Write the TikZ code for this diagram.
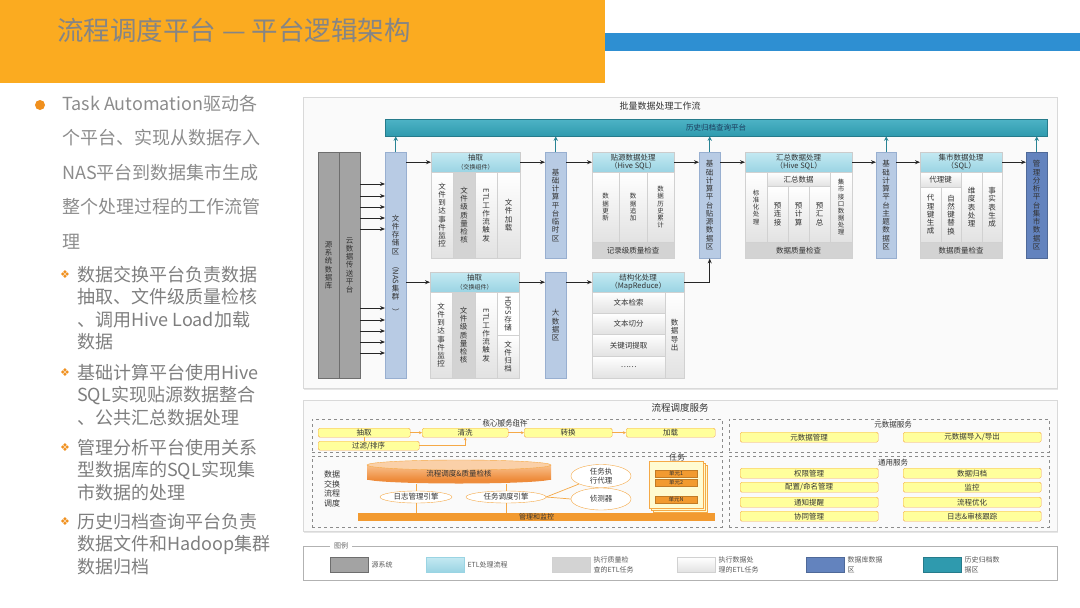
\documentclass[tikz,border=0pt]{standalone}
\usepackage{fontspec}
\setmainfont{Noto Sans CJK SC}
\newfontfamily\symfont{DejaVu Sans}
\usepackage{xcolor}
\usetikzlibrary{arrows.meta,positioning,shapes.geometric,shadows}

\definecolor{hdorange}{HTML}{FBAB20}
\definecolor{hdblue}{HTML}{2E8FD2}
\definecolor{titlegray}{HTML}{858585}
\definecolor{txtgray}{HTML}{8C8C8C}
\definecolor{subgray}{HTML}{7E7E7E}
\definecolor{bulorange}{HTML}{F0901E}
\definecolor{srcgray}{HTML}{A3A3A3}
\definecolor{srcedge}{HTML}{6E6E6E}
\definecolor{etlhead}{HTML}{9AD4E3}
\definecolor{etllight}{HTML}{C4E9F2}
\definecolor{qcgray}{HTML}{D3D3D3}
\definecolor{cellgray}{HTML}{E2E2E2}
\definecolor{zoneblue}{HTML}{B8CBE4}
\definecolor{zoneedge}{HTML}{98AFD0}
\definecolor{martblue}{HTML}{6383BE}
\definecolor{histteal}{HTML}{2F9AAE}
\definecolor{histlight}{HTML}{4DB3C5}
\definecolor{histtext}{HTML}{1B3A5C}
\definecolor{ybox}{HTML}{FFFF9C}
\definecolor{yedge}{HTML}{F5A947}
\definecolor{mgrorange}{HTML}{F29A30}
\definecolor{cylA}{HTML}{F9C08C}
\definecolor{cylB}{HTML}{EE8C3C}
\definecolor{cylT}{HTML}{FAD0A8}
\definecolor{taskpale}{HTML}{FFFBD2}
\definecolor{inktext}{HTML}{333333}

% stack characters for vertical labels
\newcommand\vtxt[1]{\vbox{\baselineskip=1.1em\lineskip=1pt\vtxtloop#1\relax}}
\def\vtxtloop#1{\ifx\relax#1\else\hbox to 1.2em{\hss#1\hss}\expandafter\vtxtloop\fi}

\begin{document}
\begin{tikzpicture}[x=1pt, y=-1pt,
    every node/.style={inner sep=0pt, text=inktext},
    wh/.style 2 args={minimum width=#1, minimum height=#2},
    panel/.style={draw=black!15, fill=black!2, anchor=north west, drop shadow={shadow xshift=0.5pt, shadow yshift=-2pt, opacity=0.2}},
    head/.style={draw=black!20, anchor=north west, top color=etllight, bottom color=etlhead, align=center, font=\fontsize{7.5}{8.5}\selectfont},
    cell/.style={draw=black!18, anchor=north west, top color=white, bottom color=cellgray, font=\fontsize{7.5}{8}\selectfont},
    qc/.style={draw=black!18, anchor=north west, fill=qcgray, font=\fontsize{7.5}{8}\selectfont},
    zone/.style={draw=zoneedge, anchor=north west, fill=zoneblue, font=\fontsize{7.5}{8}\selectfont},
    martzone/.style={draw=martblue!80!black, anchor=north west, fill=martblue, font=\fontsize{7.5}{8}\selectfont},
    src/.style={draw=srcedge, anchor=north west, fill=srcgray, font=\fontsize{7.5}{8}\selectfont},
    arr/.style={-{Stealth[length=5pt,width=4pt]}, line width=0.9pt, black!85},
    uparr/.style={-{Stealth[length=4.5pt,width=4.5pt]}, line width=1.3pt, histteal!85!black},
    dbox/.style={draw=black!45, dashed, anchor=north west},
    lbl/.style={font=\fontsize{7.5}{8}\selectfont},
    ybx/.style={draw=yedge, fill=ybox, rounded corners=1.5pt, anchor=north west, font=\fontsize{7.5}{8}\selectfont},
    oarr/.style={-{Stealth[length=3pt,width=3pt]}, yedge, line width=0.7pt},
    oline/.style={yedge, line width=0.7pt},
    eng/.style={ellipse, draw=yedge, fill=white, font=\fontsize{7.5}{8.5}\selectfont},
    unit/.style={draw=mgrorange!80!black, fill=mgrorange, anchor=north west, font=\fontsize{5.5}{6}\selectfont},
    swatch/.style={anchor=north west, wh={38}{15}},
    lgtxt/.style={align=left, font=\fontsize{7}{9.5}\selectfont, text=black!65},
    bullet/.style={anchor=north west, align=left, text=txtgray, font=\fontsize{18}{34.5}\selectfont},
    subbullet/.style={anchor=north west, align=left, text=subgray, font=\fontsize{18}{22.5}\selectfont},
    dia/.style={text=bulorange, font=\symfont\fontsize{11}{11}\selectfont},
  ]
\useasboundingbox (0,0) rectangle (1080,608);

\fill[hdorange] (0,0) rectangle (605,83);
\fill[hdblue] (605,33) rectangle (1080,51);
\node[anchor=west, text=titlegray, font=\fontsize{26.5}{26.5}\selectfont] (title) at (57,30) {流程调度平台 — 平台逻辑架构};

\node[circle, fill=bulorange, minimum size=10] (dot) at (40,105) {};
\node[bullet] (b0) at (62,95) {Task Automation驱动各\\个平台、实现从数据存入\\NAS平台到数据集市生成\\整个处理过程的工作流管\\理};
\foreach \y/\n in {275/1,373/2,448/3,522/4}
  \node[dia] (m\n) at (65,\y) {❖};
\node[subbullet] (s1) at (77,266) {数据交换平台负责数据\\抽取、文件级质量检核\\、调用Hive Load加载\\数据};
\node[subbullet] (s2) at (77,364) {基础计算平台使用Hive\\SQL实现贴源数据整合\\、公共汇总数据处理};
\node[subbullet] (s3) at (77,439) {管理分析平台使用关系\\型数据库的SQL实现集\\市数据的处理};
\node[subbullet] (s4) at (77,513) {历史归档查询平台负责\\数据文件和Hadoop集群\\数据归档};

\node[panel, wh={754}{291}] (batch) at (303,97) {};
\node[font=\fontsize{9}{10}\selectfont] (batchttl) at (660,106) {批量数据处理工作流};
\node[anchor=north west, wh={662}{17}, top color=histlight, bottom color=histteal, draw=histteal!80!black, text=histtext, font=\fontsize{7.5}{8}\selectfont] (hist) at (385,119) {历史归档查询平台};

\node[src, wh={21}{226}] (srcdb) at (318,152) {\vtxt{源系统数据库}};
\node[src, wh={21}{226}] (cloud) at (339,152) {\vtxt{云数据传送平台}};
\node[zone, wh={21}{226}] (nas) at (385,152) {\vtxt{文件存储区{\rotatebox{-90}{（NAS}}集群{\rotatebox{-90}{）}}}};
\foreach \y in {184,196,207,218,229,308,320,331,342,353}
  \draw[arr] (cloud.east |- 0,\y) -- (nas.west |- 0,\y);

\node[head, wh={89}{20}] (ext1h) at (431,152) {抽取\\{\fontsize{6}{7}\selectfont（交换组件）}};
\node[cell, wh={22}{86}] (ext1a) at (431,172) {\vtxt{文件到达事件监控}};
\node[qc, wh={22}{86}] (ext1b) at (453,172) {\vtxt{文件级质量检核}};
\node[cell, wh={22}{86}] (ext1c) at (475,172) {\vtxt{{\rotatebox{-90}{ETL}}工作流触发}};
\node[cell, wh={23}{86}] (ext1d) at (497,172) {\vtxt{文件加载}};
\node[zone, wh={21}{106}] (tmp) at (545,152) {\vtxt{基础计算平台临时区}};

\node[head, wh={82}{20}] (srch) at (592,152) {贴源数据处理\\（Hive SQL）};
\node[cell, wh={27}{70}, font=\fontsize{6.5}{7}\selectfont] (sa) at (592,172) {\vtxt{数据更新}};
\node[cell, wh={28}{70}, font=\fontsize{6.5}{7}\selectfont] (sb) at (619,172) {\vtxt{数据追加}};
\node[cell, wh={27}{70}, font=\fontsize{6.5}{7}\selectfont] (sc) at (647,172) {\vtxt{数据历史累计}};
\node[qc, wh={82}{16}] (srcq) at (592,242) {记录级质量检查};
\node[zone, wh={21}{106}] (srczone) at (699,152) {\vtxt{基础计算平台贴源数据区}};

\node[head, wh={107}{20}] (sumh) at (745,152) {汇总数据处理\\（Hive SQL）};
\node[cell, wh={22}{70}, font=\fontsize{6.5}{7}\selectfont] (std) at (745,172) {\vtxt{标准化处理}};
\node[cell, wh={63}{14}, font=\fontsize{7.5}{8}\selectfont] (sumtop) at (767,172) {汇总数据};
\node[cell, wh={21}{56}] (pre1) at (767,186) {\vtxt{预连接}};
\node[cell, wh={21}{56}] (pre2) at (788,186) {\vtxt{预计算}};
\node[cell, wh={21}{56}] (pre3) at (809,186) {\vtxt{预汇总}};
\node[cell, wh={22}{70}, font=\fontsize{6.5}{7}\selectfont] (mif) at (830,172) {\vtxt{集市接口数据处理}};
\node[qc, wh={107}{16}] (sumq) at (745,242) {数据质量检查};
\node[zone, wh={20}{106}] (topic) at (876,152) {\vtxt{基础计算平台主题数据区}};

\node[head, wh={82}{20}] (marth) at (920,152) {集市数据处理\\（SQL）};
\node[cell, wh={41}{15}, font=\fontsize{7.5}{8}\selectfont] (keytop) at (920,172) {代理键};
\node[cell, wh={21}{55}] (k1) at (920,187) {\vtxt{代理键生成}};
\node[cell, wh={20}{55}] (k2) at (941,187) {\vtxt{自然键替换}};
\node[cell, wh={21}{70}] (dim) at (961,172) {\vtxt{维度表处理}};
\node[cell, wh={20}{70}] (fact) at (982,172) {\vtxt{事实表生成}};
\node[qc, wh={82}{16}] (martq) at (920,242) {数据质量检查};
\node[martzone, wh={21}{106}] (mart) at (1026,152) {\vtxt{管理分析平台集市数据区}};

\draw[arr] (nas.east |- ext1h) -- (ext1h.west);
\draw[arr] (ext1h.east) -- (ext1h.east -| tmp.west);
\draw[arr] (tmp.east |- srch) -- (srch.west);
\draw[arr] (srch.east) -- (srch.east -| srczone.west);
\draw[arr] (srczone.east |- sumh) -- (sumh.west);
\draw[arr] (sumh.east) -- (sumh.east -| topic.west);
\draw[arr] (topic.east |- marth) -- (marth.west);
\draw[arr] (marth.east) -- (marth.east -| mart.west);
\foreach \z in {nas,tmp,srczone,topic,mart}
  \draw[uparr] (\z.north) -- (\z.north |- hist.south);

\node[head, wh={89}{20}] (ext2h) at (430,272) {抽取\\{\fontsize{6}{7}\selectfont（交换组件）}};
\node[cell, wh={22}{86}] (e2a) at (430,292) {\vtxt{文件到达事件监控}};
\node[qc, wh={23}{86}] (e2b) at (452,292) {\vtxt{文件级质量检核}};
\node[cell, wh={22}{86}] (e2c) at (475,292) {\vtxt{{\rotatebox{-90}{ETL}}工作流触发}};
\node[cell, wh={22}{43}, top color=white, bottom color=white] (hdfs) at (497,292) {\vtxt{{\rotatebox{-90}{HDFS}}存储}};
\node[cell, wh={22}{43}] (arch) at (497,335) {\vtxt{文件归档}};
\node[zone, wh={21}{106}] (big) at (545,272) {\vtxt{大数据区}};
\node[head, wh={92}{20}] (mrh) at (592,272) {结构化处理\\（MapReduce）};
\node[cell, wh={73}{21}] (r1) at (592,292) {文本检索};
\node[cell, wh={73}{21}] (r2) at (592,313) {文本切分};
\node[cell, wh={73}{22}] (r3) at (592,334) {关键词提取};
\node[cell, wh={73}{22}] (r4) at (592,356) {……};
\node[cell, wh={19}{86}] (exp) at (665,292) {\vtxt{数据导出}};

\draw[arr] (nas.east |- ext2h) -- (ext2h.west);
\draw[arr] (ext2h.east) -- (ext2h.east -| big.west);
\draw[arr] (big.east |- mrh) -- (mrh.west);
\draw[arr] (mrh.east) -| (srczone.south);

\node[panel, wh={754}{131}] (sched) at (303,400) {};
\node[font=\fontsize{9.5}{10}\selectfont] (schedttl) at (680,408) {流程调度服务};

\node[dbox, wh={410}{33}] (core) at (312,419) {};
\node[lbl] (corettl) at (505,424) {核心服务组件};
\node[ybx, wh={92}{9}] (c1) at (318,428) {抽取};
\node[ybx, wh={86}{9}] (c2) at (422,428) {清洗};
\node[ybx, wh={88}{9}] (c3) at (524,428) {转换};
\node[ybx, wh={89}{9}] (c4) at (626,428) {加载};
\node[ybx, wh={101}{9}] (c5) at (318,441) {过滤/排序};
\draw[oarr] (c1.east) -- (c2.west);
\draw[oarr] (c2.east) -- (c3.west);
\draw[oarr] (c3.east) -- (c4.west);
\draw[oline] (c1.south) -- (c1.south |- c5.north);
\draw[oarr] (c5.east) -| (c2.south);

\node[dbox, wh={410}{71}] (flow) at (312,456) {};
\node[align=center, font=\fontsize{8}{9.5}\selectfont] (flowttl) at (332,489) {数据\\交换\\流程\\调度};
\fill[cylB] (459,479) ellipse [x radius=92, y radius=4.5];
\shade[top color=cylA, bottom color=cylB] (367,465) rectangle (551,479);
\filldraw[fill=cylT, draw=yedge] (459,465) ellipse [x radius=92, y radius=5];
\node[wh={184}{20}, font=\fontsize{7.5}{8}\selectfont] (eng) at (459,474) {流程调度\&质量检核};
\node[eng, wh={72}{12}] (logeng) at (416,497) {日志管理引擎};
\node[eng, wh={80}{12}] (taskeng) at (506,497) {任务调度引擎};
\node[eng, wh={60}{23}, align=center] (agent) at (601,476) {任务执\\行代理};
\node[eng, wh={60}{22}] (detect) at (601,499) {侦测器};
\node[anchor=north west, wh={357}{8}, fill=mgrorange, font=\fontsize{7}{7}\selectfont] (mon) at (358,513) {管理和监控};
\draw[oline] (eng.south -| logeng) -- (logeng.north);
\draw[oline] (eng.south -| taskeng) -- (taskeng.north);
\draw[oline] (logeng.south) -- (logeng.south |- mon.north);
\draw[oline] (taskeng.south) -- (taskeng.south |- mon.north);
\draw[oline] (taskeng.east) -- (agent.200);
\draw[oline] (taskeng.east) -- (detect.west);

\foreach \d in {4,2}
  \filldraw[fill=taskpale, draw=yedge] (649+\d,461+\d) rectangle ++(54,47);
\node[anchor=north west, wh={54}{47}, fill=taskpale, draw=yedge] (task) at (649,461) {};
\node[font=\fontsize{8}{8}\selectfont] (taskttl) at (677,457) {任务};
\node[unit, wh={42}{7}] (u1) at (655,470) {单元1};
\node[unit, wh={42}{7}] (u2) at (655,479) {单元2};
\node[unit, wh={42}{7}] (un) at (655,496) {单元N};

\node[dbox, wh={320}{33}] (meta) at (729,419) {};
\node[lbl] (metattl) at (893,425) {元数据服务};
\node[ybx, wh={138}{10}] (md1) at (740,432) {元数据管理};
\node[ybx, wh={138}{10}] (md2) at (903,432) {元数据导入/导出};
\node[dbox, wh={320}{71}] (gen) at (729,456) {};
\node[lbl] (genttl) at (893,463) {通用服务};
\node[ybx, wh={138}{10}] (g1) at (740,468) {权限管理};
\node[ybx, wh={138}{10}] (g2) at (740,482) {配置/命名管理};
\node[ybx, wh={138}{10}] (g3) at (740,497) {通知提醒};
\node[ybx, wh={138}{10}] (g4) at (740,511) {协同管理};
\node[ybx, wh={138}{10}] (g5) at (903,468) {数据归档};
\node[ybx, wh={138}{10}] (g6) at (903,482) {监控};
\node[ybx, wh={138}{10}] (g7) at (903,497) {流程优化};
\node[ybx, wh={138}{10}] (g8) at (903,511) {日志\&审核跟踪};

\node[anchor=north west, wh={754}{34}, draw=black!30, fill=white] (legend) at (303,546) {};
\node[fill=white, inner xsep=4pt, font=\fontsize{7}{7}\selectfont, text=black!60] (legendttl) at (341,546) {图例};
\node[swatch, fill=srcgray, draw=srcedge] (lg1) at (330,557) {};
\node[swatch, top color=etllight, bottom color=etlhead, draw=etlhead] (lg2) at (426,557) {};
\node[swatch, fill=qcgray, draw=black!18] (lg3) at (552,557) {};
\node[swatch, top color=white, bottom color=cellgray, draw=black!18] (lg4) at (677,557) {};
\node[swatch, fill=martblue, draw=martblue!80!black] (lg5) at (806,557) {};
\node[swatch, fill=histteal, draw=histteal!80!black] (lg6) at (923,557) {};
\node[lgtxt, right=3pt of lg1] (lt1) {源系统};
\node[lgtxt, right=3pt of lg2] (lt2) {ETL处理流程};
\node[lgtxt, right=3pt of lg3] (lt3) {执行质量检\\查的ETL任务};
\node[lgtxt, right=3pt of lg4] (lt4) {执行数据处\\理的ETL任务};
\node[lgtxt, right=3pt of lg5] (lt5) {数据库数据\\区};
\node[lgtxt, right=3pt of lg6] (lt6) {历史归档数\\据区};
\end{tikzpicture}
\end{document}
